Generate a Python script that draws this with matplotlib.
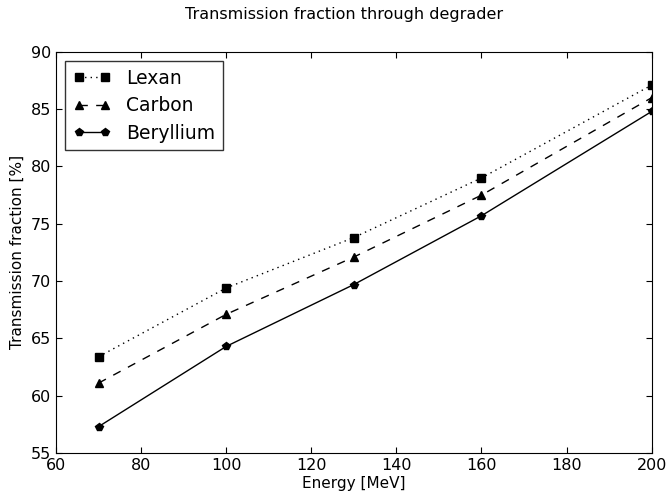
import numpy as np
import matplotlib
matplotlib.use("Agg")
import matplotlib.pyplot as plt

energy = [70, 100, 130, 160, 200]
lexan = [63.4, 69.4, 73.8, 79.0, 87.1]
carbon = [61.1, 67.1, 72.1, 77.5, 86.0]
beryllium = [57.3, 64.3, 69.7, 75.7, 84.8]

fig = plt.figure(figsize=(6.67, 4.94), dpi=100)
ax = fig.add_axes([0.084, 0.083, 0.893, 0.812])

ax.plot(energy, lexan, 'k:s', lw=1, ms=6, dashes=(1, 3), label='Lexan')
ax.plot(energy, carbon, 'k--^', lw=1, ms=6, dashes=(6, 6), label='Carbon')
ax.plot(energy, beryllium, 'k-p', lw=1, ms=6, label='Beryllium')

ax.set_xlim(60, 200)
ax.set_ylim(55, 90)
ax.tick_params(direction='in', top=True, right=True, length=4, labelsize=11.5)
ax.set_xlabel('Energy [MeV]', fontsize=11, labelpad=2)
ax.set_ylabel('Transmission fraction [%]', fontsize=11)
fig.suptitle('Transmission fraction through degrader', fontsize=11.5, x=0.516, y=0.985)

leg = ax.legend(loc='upper left', fontsize=13.5, fancybox=False, edgecolor='black',
                numpoints=2, handlelength=2.0, handletextpad=0.85,
                borderaxespad=0.5, labelspacing=0.45)
leg.get_frame().set_linewidth(1)

fig.savefig('out.png', dpi=100)
